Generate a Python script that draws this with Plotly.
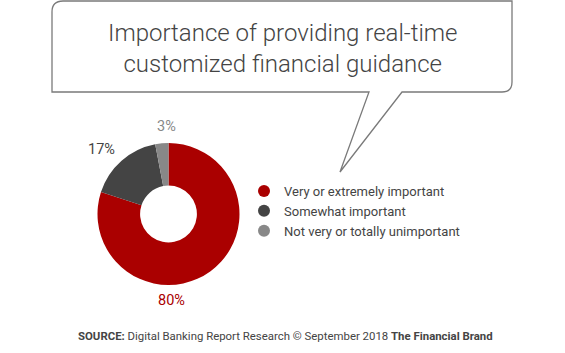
import plotly.graph_objects as go

labels = ["Very or extremely important", "Somewhat important", "Not very or totally unimportant"]
values = [80, 17, 3]
colors = ["#AA0000", "#444444", "#888888"]
title_lines = ["Importance of providing real-time", "customized financial guidance"]
source_text = "<b>SOURCE:</b> Digital Banking Report Research © September 2018 <b>The Financial Brand</b>"

W, H = 565, 353
FONT = "Roboto"

fig = go.Figure()

# donut
cx, cy, r = 168.5, 214, 71
fig.add_trace(go.Pie(
    labels=labels, values=values, sort=False, direction="clockwise", rotation=0,
    hole=0.4,
    marker=dict(colors=colors, line=dict(color="white", width=0)),
    textinfo="none",
    showlegend=False, hoverinfo="label+percent",
    domain=dict(x=[(cx - r) / W, (cx + r) / W], y=[1 - (cy + r) / H, 1 - (cy - r) / H]),
))

# percentage labels placed around the donut as in the original
label_pos = [(171, 300), (101, 149), (166, 126)]
for v, col, (lx, ly) in zip(values, colors, label_pos):
    fig.add_annotation(x=lx, y=ly, xref="x", yref="y", text=f"{v}%", showarrow=False,
                       font=dict(family=FONT, size=14.5, color=col))

# legend entries with circle markers
for lab, col in zip(labels, colors):
    fig.add_trace(go.Scatter(x=[None], y=[None], mode="markers", name=lab,
                             marker=dict(color=col, size=13, symbol="circle"),
                             showlegend=True, xaxis="x", yaxis="y"))

# speech bubble
path = ("M 52,92 L 52,12 Q 52,1 63,1 L 512,1 L 512,82 Q 512,92 502,92 "
        "L 402,92 L 340,172 L 369,92 Z")
fig.add_shape(type="path", path=path, xref="x", yref="y",
              line=dict(color="#7a7a7a", width=1.3), fillcolor="rgba(0,0,0,0)", layer="below")

fig.add_annotation(x=282, y=48, xref="x", yref="y", text="<br>".join(title_lines),
                   showarrow=False, font=dict(family=FONT, size=24, color="#444444", weight=300),
                   align="center")
fig.add_annotation(x=285, y=336, xref="x", yref="y", text=source_text, showarrow=False,
                   font=dict(family=FONT, size=11.4, color="#444444"), align="center")

fig.update_layout(
    width=W, height=H, margin=dict(l=0, r=0, t=0, b=0),
    paper_bgcolor="white", plot_bgcolor="rgba(0,0,0,0)",
    xaxis=dict(range=[0, W], visible=False, domain=[0, 1], fixedrange=True),
    yaxis=dict(range=[H, 0], visible=False, domain=[0, 1], fixedrange=True),
    legend=dict(x=244 / W, y=1 - 176 / H, xanchor="left", yanchor="top",
                font=dict(family=FONT, size=13, color="#444444"),
                itemsizing="constant", tracegroupgap=0, bgcolor="rgba(0,0,0,0)"),
    font=dict(family=FONT),
)

fig.write_html("out.html")
